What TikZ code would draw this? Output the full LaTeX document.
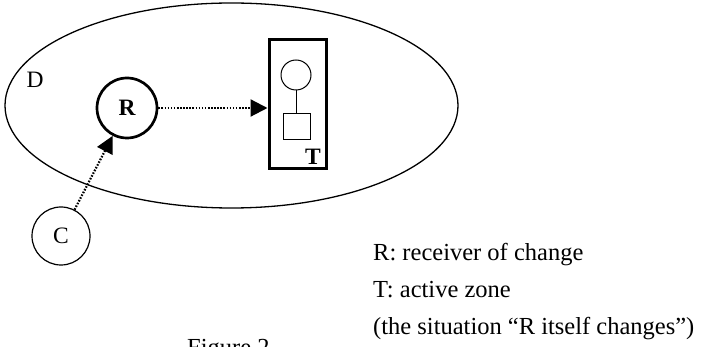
\documentclass[tikz,border=0pt]{standalone}
\usepackage{fontspec}
\setmainfont{Liberation Serif}
\usetikzlibrary{arrows.meta,shapes.geometric}

\begin{document}
\tikzset{
  lbl/.style={font=\fontsize{23.5}{27}\selectfont, inner sep=0pt},
  blbl/.style={lbl, font=\fontsize{23.5}{27}\selectfont\bfseries},
  dotarrow/.style={line width=2.2pt, dash pattern=on 1.6pt off 1.5pt,
    -{Triangle[length=17pt,width=17pt]}, shorten >=0pt},
  thinball/.style={circle, draw, line width=1.2pt, minimum size=58pt, inner sep=0pt},
  thickball/.style={circle, draw, line width=2.7pt, minimum size=60pt, inner sep=0pt},
  legend/.style={font=\fontsize{24.5}{28}\selectfont, inner sep=0pt, anchor=base west},
}

\begin{tikzpicture}[x=1pt, y=-1pt]
  \clip (0,0) rectangle (702,347);
  \fill[white] (0,0) rectangle (702,347);

  % domain D
  \node[ellipse, draw, line width=1.3pt, minimum width=453pt, minimum height=205pt,
        inner sep=0pt] (dom) at (231.5,105.5) {};
  \node[lbl] (dlabel) at (35,80) {D};

  % receiver of change
  \node[thickball, blbl] (R) at (127,108) {R};

  % active zone T with its inner figure
  \node[draw, line width=3pt, minimum width=57pt, minimum height=129pt, inner sep=0pt]
        (T) at (297.5,104.5) {};
  \node[circle, draw, line width=1pt, minimum size=30pt, inner sep=0pt] (head) at (296,75) {};
  \node[draw, line width=1pt, minimum width=27pt, minimum height=26pt, inner sep=0pt]
        (body) at (296.5,127) {};
  \draw[line width=1pt] (head.south) -- (body.north -| head.south);
  \node[blbl] (tlabel) at (313,157) {T};

  % cause C outside the domain
  \node[thinball, lbl] (C) at (61,236) {C};

  % connectors
  \draw[dotarrow] (R.east) -- (R.east -| T.west);
  \draw[dotarrow] (C) -- (R);

  % legend
  \node[legend] (l1) at (373,261) {R: receiver of change};
  \node[legend] (l2) at (373,298) {T: active zone};
  \node[legend] (l3) at (373,335) {(the situation “R itself changes”)};

  % caption, cut by the page edge
  \node[legend] (cap) at (187,356) {Figure 2};
\end{tikzpicture}
\end{document}
